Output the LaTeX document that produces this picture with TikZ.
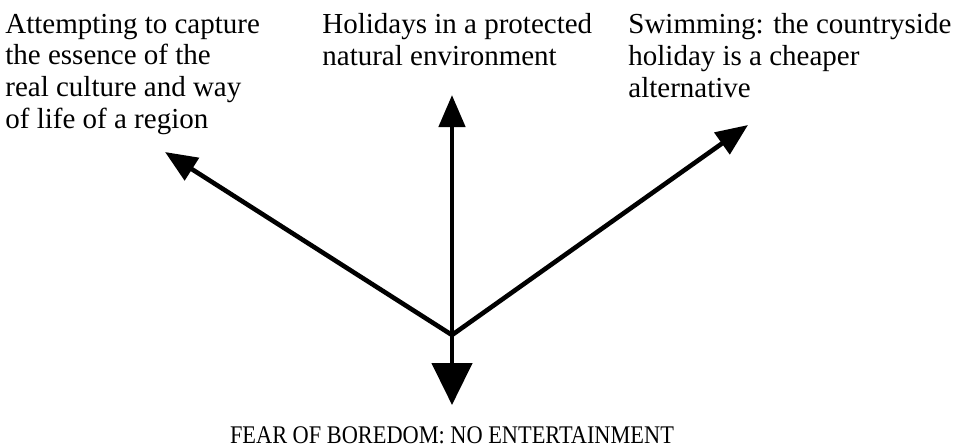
\documentclass[tikz,border=0pt]{standalone}
\usepackage{fontspec}
\setmainfont{Liberation Serif}
\newfontfamily\narrowfont{Liberation Serif}[FakeStretch=0.88]
\usetikzlibrary{arrows.meta}
\begin{document}
\begin{tikzpicture}[x=0.5pt,y=-0.5pt,
  lbl/.style={inner sep=0pt,align=left,anchor=base west,font=\fontsize{14.5}{15.8}\selectfont},
  arr/.style={line width=2.3pt,-{Triangle[length=16pt,width=13pt]}},
  bigarr/.style={line width=2.3pt,-{Triangle[length=21pt,width=20pt]}}]
\useasboundingbox (0,0) rectangle (960,447);
\node[lbl] (culture) at (5,128) {Attempting to capture\\the essence of the\\real culture and way\\of life of a region};
\node[lbl] (nature) at (322,65) {Holidays in a protected\\natural environment};
\node[lbl] (swim) at (628,97) {Swimming: the countryside\\holiday is a cheaper\\alternative};
\node[inner sep=0pt,anchor=base,font=\narrowfont\fontsize{12.7}{14}\selectfont] (fear) at (452,443) {FEAR OF BOREDOM: NO ENTERTAINMENT};
\coordinate (hub) at (452,335);
\coordinate (tl) at (165,152);
\coordinate (tu) at (452,95);
\coordinate (tr) at (748,125);
\coordinate (td) at (452,405);
\draw[arr] (hub) -- (tl);
\draw[arr] (hub) -- (tu);
\draw[arr] (hub) -- (tr);
\draw[bigarr] (hub) -- (td);
\end{tikzpicture}
\end{document}
